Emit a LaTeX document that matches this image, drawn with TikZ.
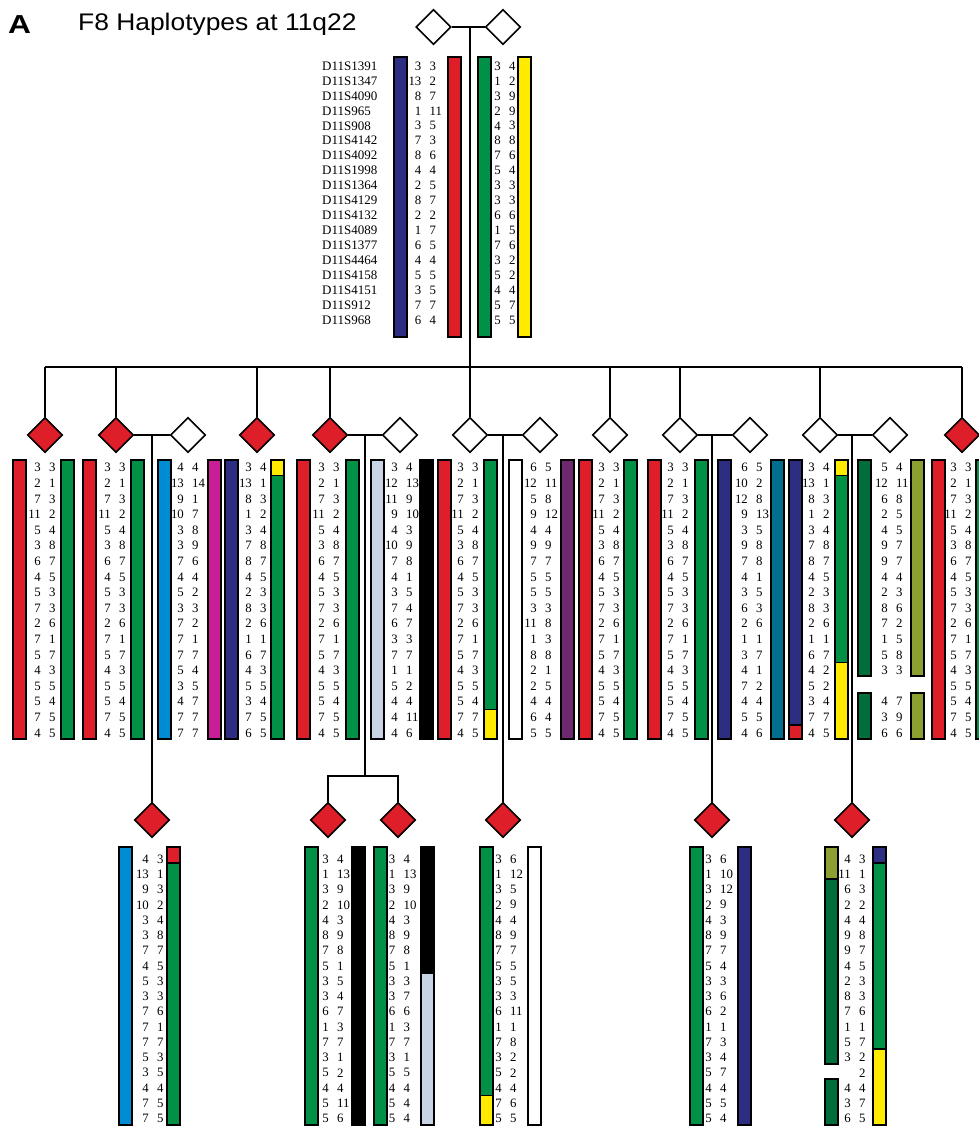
\documentclass[tikz,border=0pt]{standalone}
\usepackage{fontspec}
\setmainfont{Liberation Serif}
\newfontfamily\titlefont{Liberation Sans}
\usetikzlibrary{shapes.geometric}
\definecolor{hred}{RGB}{222,30,40}
\definecolor{hgreen}{RGB}{0,145,70}
\definecolor{hnavy}{RGB}{45,45,130}
\definecolor{hyellow}{RGB}{255,235,0}
\definecolor{hsky}{RGB}{0,140,210}
\definecolor{hmagenta}{RGB}{200,30,150}
\definecolor{hlgrey}{RGB}{200,212,228}
\definecolor{hpurple}{RGB}{110,40,110}
\definecolor{hteal}{RGB}{0,110,140}
\definecolor{hdkgreen}{RGB}{0,110,60}
\definecolor{holive}{RGB}{140,160,50}
\tikzset{
  num/.style={inner sep=0pt, font=\fontsize{12.8}{14}\selectfont},
  mk/.style={inner sep=0pt, anchor=west, font=\fontsize{13}{15}\selectfont},
  aff/.style={diamond, aspect=1, draw=black, line width=1.6pt, fill=hred, minimum width=35pt, minimum height=35pt, inner sep=0pt},
  una/.style={aff, fill=white},
  ped/.style={line width=2pt},
  barline/.style={draw=black, line width=1.2pt},
}
\newcommand\hcol[6]{%
  \foreach \v [count=\i] in {#5} {\node[num, anchor=east] (#1a\i) at ({#2-4},{#3+(\i-1)*#4}) {\v};}
  \foreach \v [count=\i] in {#6} {\node[num, anchor=west] (#1b\i) at ({#2+4},{#3+(\i-1)*#4}) {\v};}
}
\newcommand\seg[4]{\filldraw[barline, fill=#4] (#1,#2) rectangle ({#1+13},#3);}
\begin{document}
\begin{tikzpicture}[x=1pt,y=-1pt]
\useasboundingbox (0,0) rectangle (979,1128);
\clip (0,0) rectangle (979,1128);
\fill[white] (0,0) rectangle (979,1128);
% title
\node[anchor=base west, inner sep=0pt, font=\titlefont\bfseries\fontsize{26}{28}\selectfont] (lab) at (8,33) {\scalebox{1.22}[1]{A}};
\node[anchor=base west, inner sep=0pt, font=\titlefont\fontsize{24}{26}\selectfont] (ttl) at (78,30) {\scalebox{1.1}[1]{F8 Haplotypes at 11q22}};
% marker labels
\foreach \m [count=\i] in {D11S1391,D11S1347,D11S4090,D11S965,D11S908,D11S4142,D11S4092,D11S1998,D11S1364,D11S4129,D11S4132,D11S4089,D11S1377,D11S4464,D11S4158,D11S4151,D11S912,D11S968}
  {\node[mk] (mk\i) at (322,{66+(\i-1)*14.95}) {\m};}
% founders
\node[una] (F1) at (433.5,27) {};
\node[una] (F2) at (503,27) {};
\draw[ped] (F1.east) -- (F2.west);
\coordinate (Fd) at (470,27);
\coordinate (sib) at (470,367);
\draw[ped] (Fd) -- (sib);
\seg{394}{57}{337}{hnavy}
\seg{448}{57}{337}{hred}
\seg{478}{57}{337}{hgreen}
\seg{518}{57}{337}{hyellow}
\hcol{fa}{425.5}{66}{14.95}{3,13,8,1,3,7,8,4,2,8,2,1,6,4,5,3,7,6}{3,2,7,11,5,3,6,4,5,7,2,7,5,4,5,5,7,4}
\hcol{fb}{505}{66}{14.95}{3,1,3,2,4,8,7,5,3,3,6,1,7,3,5,4,5,5}{4,2,9,9,3,8,6,4,3,3,6,5,6,2,2,4,7,5}
% generation 2
\node[aff] (C1) at (45,435) {};
\node[aff] (C2) at (116,435) {};
\node[una] (S1) at (188,435) {};
\node[aff] (C3) at (257,435) {};
\node[aff] (C4) at (330,435) {};
\node[una] (S2) at (400,435) {};
\node[una] (C5) at (470,435) {};
\node[una] (S3) at (540,435) {};
\node[una] (C6) at (610,435) {};
\node[una] (C7) at (680,435) {};
\node[una] (S4) at (750,435) {};
\node[una] (C8) at (820,435) {};
\node[una] (S5) at (890,435) {};
\node[aff] (C9) at (962,435) {};
\draw[ped] (C1.north |- sib) -- (C9.north |- sib);
\foreach \c in {C1,C2,C3,C4,C5,C6,C7,C8,C9} {\draw[ped] (\c.north) -- (\c.north |- sib);}
\draw[ped] (C2.east) -- (S1.west);
\draw[ped] (C4.east) -- (S2.west);
\draw[ped] (C5.east) -- (S3.west);
\draw[ped] (C7.east) -- (S4.west);
\draw[ped] (C8.east) -- (S5.west);
\coordinate (M1) at (152,435);
\coordinate (M2) at (365,435);
\coordinate (M3) at (503,435);
\coordinate (M4) at (712,435);
\coordinate (M5) at (852,435);
% gen 2 bars
\seg{13}{460}{739}{hred}   \seg{61}{460}{739}{hgreen}
\seg{83}{460}{739}{hred}   \seg{131}{460}{739}{hgreen}
\seg{158}{460}{739}{hsky}  \seg{208}{460}{739}{hmagenta}
\seg{225}{460}{739}{hnavy} \seg{271}{460}{475.5}{hyellow} \seg{271}{475.5}{739}{hgreen}
\seg{297}{460}{739}{hred}  \seg{346}{460}{739}{hgreen}
\seg{371}{460}{739}{hlgrey} \seg{420}{460}{739}{black}
\seg{438}{460}{739}{hred}  \seg{484}{460}{709.5}{hgreen} \seg{484}{709.5}{739}{hyellow}
\seg{509}{460}{739}{white} \seg{561}{460}{739}{hpurple}
\seg{579}{460}{739}{hred}  \seg{624}{460}{739}{hgreen}
\seg{648}{460}{739}{hred}  \seg{695}{460}{739}{hgreen}
\seg{718}{460}{739}{hnavy} \seg{771}{460}{739}{hteal}
\seg{789}{460}{725}{hnavy} \seg{789}{725}{739}{hred}
\seg{835}{460}{475.5}{hyellow} \seg{835}{475.5}{662.7}{hgreen} \seg{835}{662.7}{739}{hyellow}
\seg{858}{460}{676}{hdkgreen} \seg{858}{693}{739}{hdkgreen}
\seg{911}{460}{676}{holive} \seg{911}{693}{739}{holive}
\seg{932}{460}{739}{hred}  \seg{976}{460}{739}{hgreen}
% gen 2 numbers
\hcol{c1}{45}{467.7}{15.6}{3,2,7,11,5,3,6,4,5,7,2,7,5,4,5,5,7,4}{3,1,3,2,4,8,7,5,3,3,6,1,7,3,5,4,5,5}
\hcol{c2}{115}{467.7}{15.6}{3,2,7,11,5,3,6,4,5,7,2,7,5,4,5,5,7,4}{3,1,3,2,4,8,7,5,3,3,6,1,7,3,5,4,5,5}
\hcol{s1}{188}{467.7}{15.6}{4,13,9,10,3,3,7,4,5,3,7,7,7,5,3,4,7,7}{4,14,1,7,8,9,6,4,2,3,2,1,7,4,5,7,7,7}
\hcol{c3}{256}{467.7}{15.6}{3,13,8,1,3,7,8,4,2,8,2,1,6,4,5,3,7,6}{4,1,3,2,4,8,7,5,3,3,6,1,7,3,5,4,5,5}
\hcol{c4}{329}{467.7}{15.6}{3,2,7,11,5,3,6,4,5,7,2,7,5,4,5,5,7,4}{3,1,3,2,4,8,7,5,3,3,6,1,7,3,5,4,5,5}
\hcol{s2}{402}{467.7}{15.6}{3,12,11,9,4,10,7,4,3,7,6,3,7,1,5,4,4,4}{4,13,9,10,3,9,8,1,5,4,7,3,7,1,2,4,11,6}
\hcol{c5}{468}{467.7}{15.6}{3,2,7,11,5,3,6,4,5,7,2,7,5,4,5,5,7,4}{3,1,3,2,4,8,7,5,3,3,6,1,7,3,5,4,7,5}
\hcol{s3}{541}{467.7}{15.6}{6,12,5,9,4,9,7,5,5,3,11,1,8,2,2,4,6,5}{5,11,8,12,4,9,7,5,5,3,8,3,8,1,5,4,4,5}
\hcol{c6}{609}{467.7}{15.6}{3,2,7,11,5,3,6,4,5,7,2,7,5,4,5,5,7,4}{3,1,3,2,4,8,7,5,3,3,6,1,7,3,5,4,5,5}
\hcol{c7}{678}{467.7}{15.6}{3,2,7,11,5,3,6,4,5,7,2,7,5,4,5,5,7,4}{3,1,3,2,4,8,7,5,3,3,6,1,7,3,5,4,5,5}
\hcol{s4}{752}{467.7}{15.6}{6,10,12,9,3,9,7,4,3,6,2,1,3,4,7,4,5,4}{5,2,8,13,5,8,8,1,5,3,6,1,7,1,2,4,5,6}
\hcol{c8}{819}{467.7}{15.6}{3,13,8,1,3,7,8,4,2,8,2,1,6,4,5,3,7,4}{4,1,3,2,4,8,7,5,3,3,6,1,7,2,2,4,7,5}
\hcol{s5}{892}{467.7}{15.6}{5,12,6,2,4,9,9,4,2,8,7,1,5,3,{},4,3,6}{4,11,8,5,5,7,7,4,3,6,2,5,8,3,{},7,9,6}
\hcol{c9}{961}{467.7}{15.6}{3,2,7,11,5,3,6,4,5,7,2,7,5,4,5,5,7,4}{3,1,3,2,4,8,7,5,3,3,6,1,7,3,5,4,5,5}
% generation 3
\node[aff] (G1) at (152,820) {};
\node[aff] (G2) at (328,820) {};
\node[aff] (G3) at (398,820) {};
\node[aff] (G4) at (503,820) {};
\node[aff] (G5) at (712,820) {};
\node[aff] (G6) at (852,820) {};
\coordinate (sib2) at (365,776);
\draw[ped] (M1) -- (G1.north);
\draw[ped] (M2) -- (sib2);
\draw[ped] (G2.north) -- (G2.north |- sib2) -- (G3.north |- sib2) -- (G3.north);
\draw[ped] (M3) -- (G4.north);
\draw[ped] (M4) -- (G5.north);
\draw[ped] (M5) -- (G6.north);
% gen 3 bars
\seg{119}{847}{1125}{hsky} \seg{167}{847}{863}{hred} \seg{167}{863}{1125}{hgreen}
\seg{305}{847}{1125}{hgreen} \seg{352}{847}{1125}{black}
\seg{374}{847}{1125}{hgreen} \seg{421}{847}{973.5}{black} \seg{421}{973.5}{1125}{hlgrey}
\seg{480}{847}{1095.7}{hgreen} \seg{480}{1095.7}{1125}{hyellow} \seg{528}{847}{1125}{white}
\seg{690}{847}{1125}{hgreen} \seg{738}{847}{1125}{hnavy}
\seg{825}{847}{879}{holive} \seg{825}{879}{1064}{hdkgreen} \seg{825}{1079}{1125}{hdkgreen}
\seg{873}{847}{863}{hnavy} \seg{873}{863}{1049}{hgreen} \seg{873}{1049}{1125}{hyellow}
% gen 3 numbers
\hcol{g1}{153}{859}{15.27}{4,13,9,10,3,3,7,4,5,3,7,7,7,5,3,4,7,7}{3,1,3,2,4,8,7,5,3,3,6,1,7,3,5,4,5,5}
\hcol{g2}{333}{859}{15.27}{3,1,3,2,4,8,7,5,3,3,6,1,7,3,5,4,5,5}{4,13,9,10,3,9,8,1,5,4,7,3,7,1,2,4,11,6}
\hcol{g3}{399.5}{859}{15.27}{3,1,3,2,4,8,7,5,3,3,6,1,7,3,5,4,5,5}{4,13,9,10,3,9,8,1,3,7,6,3,7,1,5,4,4,4}
\hcol{g4}{506}{859}{15.27}{3,1,3,2,4,8,7,5,3,3,6,1,7,3,5,4,7,5}{6,12,5,9,4,9,7,5,5,3,11,1,8,2,2,4,6,5}
\hcol{g5}{716}{859}{15.27}{3,1,3,2,4,8,7,5,3,3,6,1,7,3,5,4,5,5}{6,10,12,9,3,9,7,4,3,6,2,1,3,4,7,4,5,4}
\hcol{g6}{855}{859}{15.27}{4,11,6,2,4,9,9,4,2,8,7,1,5,3,{},4,3,6}{3,1,3,2,4,8,7,5,3,3,6,1,7,2,2,4,7,5}
\end{tikzpicture}
\end{document}
